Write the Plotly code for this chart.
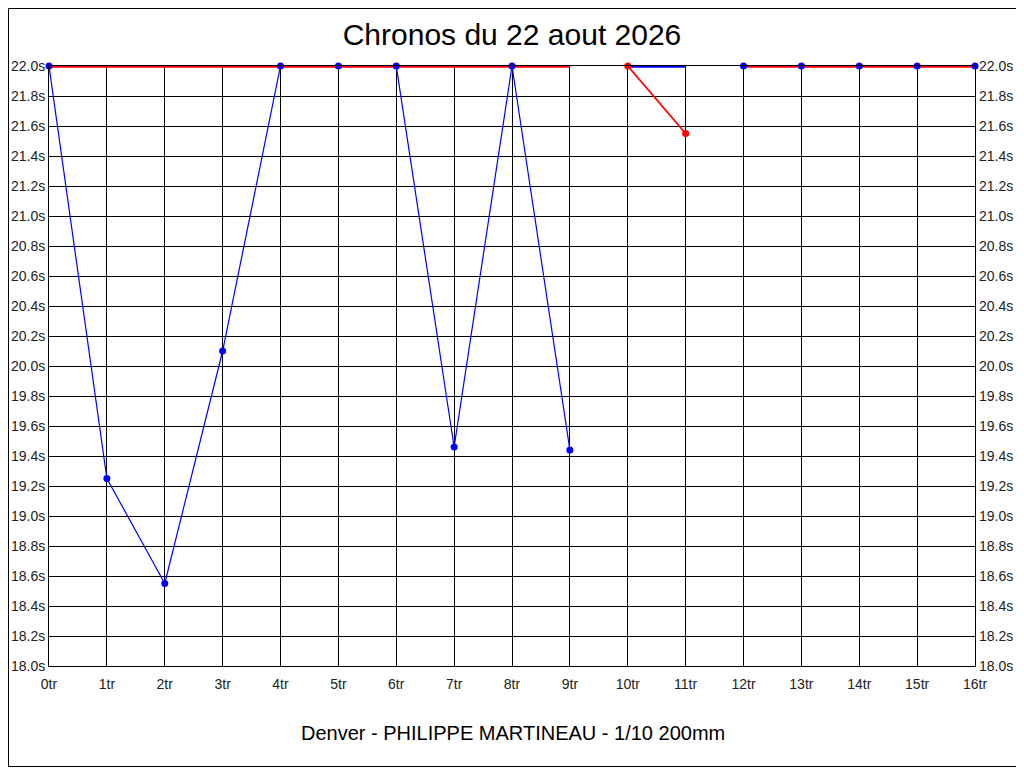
import plotly.graph_objects as go

laps = list(range(17))
tick_labels = [f"{i}tr" for i in laps]
y_ticks = [18.0, 18.2, 18.4, 18.6, 18.8, 19.0, 19.2, 19.4, 19.6, 19.8,
           20.0, 20.2, 20.4, 20.6, 20.8, 21.0, 21.2, 21.4, 21.6, 21.8, 22.0]
y_tick_labels = ["18.0s", "18.2s", "18.4s", "18.6s", "18.8s", "19.0s", "19.2s",
                 "19.4s", "19.6s", "19.8s", "20.0s", "20.2s", "20.4s", "20.6s",
                 "20.8s", "21.0s", "21.2s", "21.4s", "21.6s", "21.8s", "22.0s"]

# blue lap-time series (thin with markers)
blue_times = [22.0, 19.25, 18.55, 20.1, 22.0, 22.0, 22.0, 19.46, 22.0, 19.44,
              None, None, 22.0, 22.0, 22.0, 22.0, 22.0]
# red reference (thick)
red_ref = [22.0, 22.0, 22.0, 22.0, 22.0, 22.0, 22.0, 22.0, 22.0, 22.0,
           None, None, 22.0, 22.0, 22.0, 22.0, 22.0]
# blue reference (thick) segment
blue_ref = [None] * 10 + [22.0, 22.0] + [None] * 5
# red lap-time series (thin with markers)
red_times = [None] * 10 + [22.0, 21.55] + [None] * 5

title_text = "Chronos du 22 aout 2026"
x_title_text = "Denver - PHILIPPE MARTINEAU - 1/10 200mm"

BLUE = "#0000FF"
RED = "#FF0000"
FONT = "Liberation Sans, Arial, sans-serif"

fig = go.Figure()
fig.add_trace(go.Scatter(x=laps, y=blue_times, mode="lines",
                         line=dict(color=BLUE, width=1.2), connectgaps=False,
                         cliponaxis=False, hoverinfo="skip"))
fig.add_trace(go.Scatter(x=laps, y=red_times, mode="lines",
                         line=dict(color=RED, width=1.8), connectgaps=False,
                         cliponaxis=False, hoverinfo="skip"))
fig.add_trace(go.Scatter(x=laps, y=red_ref, mode="lines",
                         line=dict(color=RED, width=3.5), connectgaps=False,
                         cliponaxis=False, hoverinfo="skip"))
fig.add_trace(go.Scatter(x=laps, y=blue_ref, mode="lines",
                         line=dict(color=BLUE, width=3.5), connectgaps=False,
                         cliponaxis=False, hoverinfo="skip"))
fig.add_trace(go.Scatter(x=laps, y=blue_times, mode="markers",
                         marker=dict(color=BLUE, size=7), cliponaxis=False))
fig.add_trace(go.Scatter(x=laps, y=red_times, mode="markers",
                         marker=dict(color=RED, size=7), cliponaxis=False))
# invisible trace to carry the right-hand axis
fig.add_trace(go.Scatter(x=[0], y=[18.0], yaxis="y2", mode="markers",
                         marker=dict(opacity=0), hoverinfo="skip"))

tickfont = dict(family=FONT, size=14, color="#222222")
axis_common = dict(showline=True, linecolor="black", linewidth=1,
                   gridcolor="black", gridwidth=1, zeroline=False,
                   automargin=False, tickfont=tickfont)

# page body has an 8px offset; figure is sized so the plot lands in place
W, H = 1016, 760
ML, MT = 41, 58
PW, PH = 926, 600

fig.update_layout(
    width=W, height=H,
    margin=dict(l=ML, r=W - ML - PW, t=MT, b=H - MT - PH, autoexpand=False),
    paper_bgcolor="white", plot_bgcolor="white",
    showlegend=False,
    font=dict(family=FONT, color="black"),
    title=dict(text=title_text, x=(512 - 8) / W, xanchor="center",
               y=1 - (34 - 8) / H, yanchor="middle",
               font=dict(family=FONT, size=30, color="black")),
    xaxis=dict(range=[0, 16], tickmode="array", tickvals=laps,
               ticktext=tick_labels, mirror=True,
               ticks="outside", ticklen=5, tickcolor="rgba(0,0,0,0)",
               **axis_common),
    yaxis=dict(range=[18.0, 22.0], tickmode="array", tickvals=y_ticks,
               ticktext=y_tick_labels, mirror=True, **axis_common),
    yaxis2=dict(range=[18.0, 22.0], tickmode="array", tickvals=y_ticks,
                ticktext=y_tick_labels, overlaying="y", side="right",
                showgrid=False, showline=False, zeroline=False,
                automargin=False, tickfont=tickfont, ticklabelstandoff=3),
    annotations=[dict(text=x_title_text, xref="paper", yref="paper",
                      x=(513 - 8 - ML) / PW, y=(MT + PH - (733 - 8)) / PH,
                      xanchor="center", yanchor="middle", showarrow=False,
                      font=dict(family=FONT, size=20, color="black"))],
    shapes=[dict(type="rect", xref="paper", yref="paper",
                 x0=(0.5 - ML) / PW, x1=(1010.5 - ML) / PW,
                 y0=(MT + PH - 758.5) / PH, y1=(MT + PH - 0.5) / PH,
                 line=dict(color="black", width=1), layer="below")],
)

fig.write_html("out.html")
